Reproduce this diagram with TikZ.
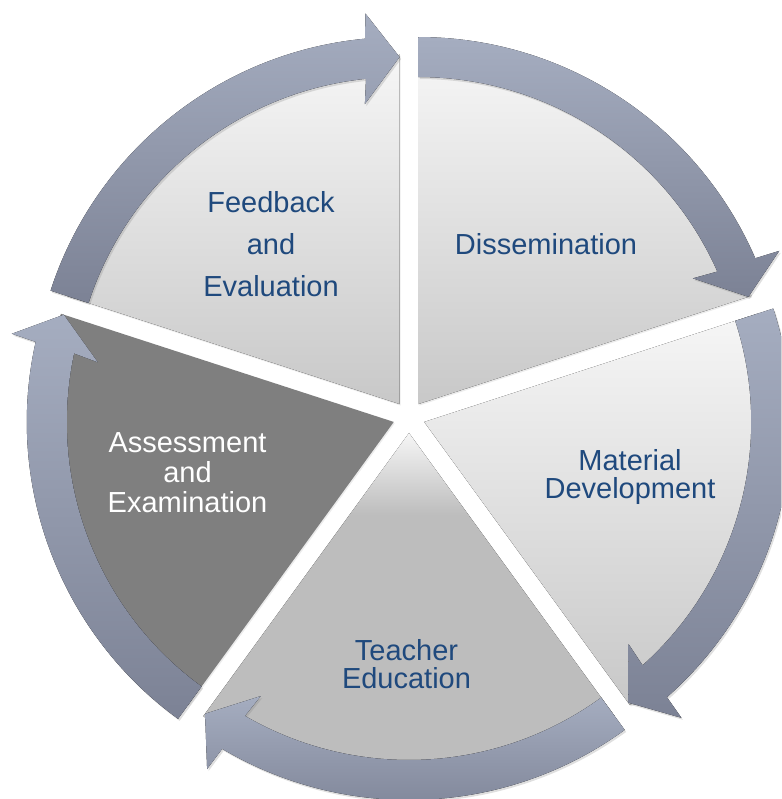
\documentclass[tikz,border=0pt]{standalone}
\usepackage{fontspec}
\setmainfont{Liberation Sans}
\usetikzlibrary{shadows}
\definecolor{txtblue}{RGB}{31,73,125}
\definecolor{arrtop}{RGB}{165,173,192}
\definecolor{arrbot}{RGB}{124,130,149}
\definecolor{wtop}{RGB}{246,246,246}
\definecolor{wbot}{RGB}{200,200,200}
\definecolor{tgray}{RGB}{189,189,189}
\definecolor{agray}{RGB}{127,127,127}
\pgfdeclareverticalshading{teachshade}{100bp}{color(0bp)=(tgray); color(64bp)=(tgray); color(75bp)=(wtop); color(100bp)=(wtop)}
\begin{document}
\begin{tikzpicture}[x=1pt,y=1pt,
  wedgelight/.style={top color=wtop, bottom color=wbot, draw=none,
    drop shadow={opacity=0.15, shadow xshift=1pt, shadow yshift=-1.5pt}},
  wedgeteach/.style={shading=teachshade, draw=none,
    drop shadow={opacity=0.15, shadow xshift=1pt, shadow yshift=-1.5pt}},
  wedgedark/.style={fill=agray, draw=none,
    drop shadow={opacity=0.15, shadow xshift=1pt, shadow yshift=-1.5pt}},
  arrowband/.style={top color=arrtop, bottom color=arrbot, draw=none,
    drop shadow={opacity=0.25, shadow xshift=1.5pt, shadow yshift=-2pt}},
  lbl/.style={align=center, inner sep=0pt, text=txtblue}
]
\clip (0,0) rectangle (781,799);
\coordinate (C) at (409,382);
% wedges
\begin{scope}[shift={(C)}, shift={(126:16)}]
  \fill[wedgelight] (0,0) -- (162:350) arc[start angle=162, end angle=90, radius=350] -- cycle;
\end{scope}
\begin{scope}[shift={(C)}, shift={(54:16)}]
  \fill[wedgelight] (0,0) -- (90:350) arc[start angle=90, end angle=18, radius=350] -- cycle;
\end{scope}
\begin{scope}[shift={(C)}, shift={(-18:16)}]
  \fill[wedgelight] (0,0) -- (18:350) arc[start angle=18, end angle=-54, radius=350] -- cycle;
\end{scope}
\begin{scope}[shift={(C)}, shift={(-90:16)}]
  \fill[wedgeteach] (0,0) -- (-54:350) arc[start angle=-54, end angle=-126, radius=350] -- cycle;
\end{scope}
\begin{scope}[shift={(C)}, shift={(-162:16)}]
  \fill[wedgedark] (0,0) -- (-126:350) arc[start angle=-126, end angle=-198, radius=350] -- cycle;
\end{scope}
% arrows
\foreach \s/\b in {162/126, 90/54, 18/-18, -54/-90, -126/-162} {
  \begin{scope}[shift={(C)}, shift={(\b:16)}]
    \pgfmathsetmacro\e{\s-72}
    \fill[arrowband] (\s:367) arc[start angle=\s, end angle={\e+5.4}, radius=367]
      -- ({\e+5}:392) -- (\e:347) -- ({\e+6.6}:302) -- ({\e+5.9}:327)
      arc[start angle={\e+5.9}, end angle=\s, radius=327] -- cycle;
  \end{scope}
}
% labels
\node[lbl, font=\fontsize{29}{42}\selectfont] (fb) at (271,554.5) {Feedback\\and\\Evaluation};
\node[lbl, font=\fontsize{29}{35}\selectfont] (dis) at (546,555) {Dissemination};
\node[lbl, font=\fontsize{29}{28}\selectfont] (mat) at (630,321.5) {Material\\Development};
\node[lbl, text=white, font=\fontsize{29}{30}\selectfont] (ass) at (187.5,326.5) {Assessment\\and\\Examination};
\node[lbl, font=\fontsize{29}{28}\selectfont] (tea) at (406.5,135) {Teacher\\Education};
\end{tikzpicture}
\end{document}
